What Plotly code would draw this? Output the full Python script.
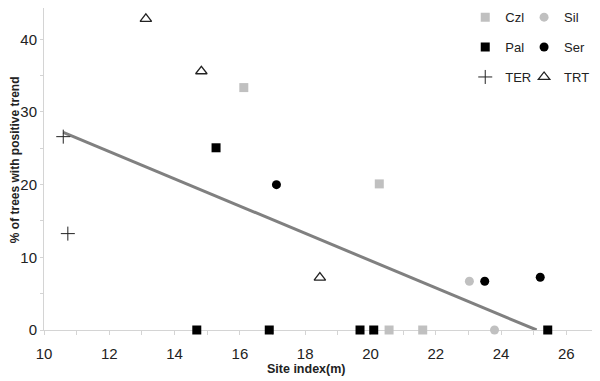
import plotly.graph_objects as go

# Data
czl_x = [16.12, 20.27, 20.57, 21.6]
czl_y = [33.35, 20.1, 0, 0]
sil_x = [23.03, 23.8]
sil_y = [6.7, 0]
pal_x = [15.27, 14.68, 16.9, 19.68, 20.1, 25.43]
pal_y = [25.07, 0, 0, 0, 0, 0]
ser_x = [17.12, 23.5, 25.2]
ser_y = [20.0, 6.7, 7.25]
ter_x = [10.59, 10.73]
ter_y = [26.6, 13.26]
trt_x = [13.12, 14.82, 18.45]
trt_y = [42.8, 35.6, 7.2]
trend_x = [10.59, 25.09]
trend_y = [27.2, 0]

FONT = "Liberation Sans, Arial, sans-serif"
LIGHT = "#c0c0c0"
DARK = "#222"
AX = "#d4d4d4"

fig = go.Figure()

fig.add_trace(go.Scatter(x=trend_x, y=trend_y, mode="lines",
                         line=dict(color="#808080", width=3),
                         showlegend=False, hoverinfo="skip", cliponaxis=False))

def add(name, xs, ys, marker, legend, group):
    fig.add_trace(go.Scatter(x=xs, y=ys, mode="markers", name=name,
                             marker=marker, legend=legend, legendgroup=group,
                             cliponaxis=False))

add("Czl", czl_x, czl_y, dict(symbol="square", size=9, color=LIGHT), "legend", "g1")
add("Pal", pal_x, pal_y, dict(symbol="square", size=9, color="black"), "legend", "g2")
add("TER", ter_x, ter_y, dict(symbol="cross-thin-open", size=10, color=DARK,
                              line=dict(color=DARK, width=1)), "legend", "g3")
add("Sil", sil_x, sil_y, dict(symbol="circle", size=9, color=LIGHT), "legend2", "g4")
add("Ser", ser_x, ser_y, dict(symbol="circle", size=9, color="black"), "legend2", "g5")
add("TRT", trt_x, trt_y, dict(symbol="triangle-up-open", size=10, color=DARK,
                              line=dict(color=DARK, width=1.3)), "legend2", "g6")

axis_common = dict(showline=True, linecolor=AX, linewidth=1,
                   ticks="outside", tickcolor=AX,
                   showgrid=False, zeroline=False, layer="below traces",
                   automargin=False,
                   tickfont=dict(family=FONT, size=15, color=DARK))

legend_common = dict(xanchor="left", yanchor="top", traceorder="grouped",
                     tracegroupgap=10,
                     font=dict(family=FONT, size=13, color=DARK),
                     bgcolor="rgba(0,0,0,0)")

fig.update_layout(
    width=592, height=373,
    margin=dict(l=35.5, r=1, t=0, b=50.5, autoexpand=False),
    plot_bgcolor="white", paper_bgcolor="white",
    font=dict(family=FONT, color=DARK),
    xaxis=dict(range=[10, 27], dtick=2, tick0=10, ticklen=4,
               minor=dict(dtick=1, ticks="outside", ticklen=4, tickcolor=AX),
               ticklabelstandoff=6, **axis_common),
    yaxis=dict(range=[0, 44.3], dtick=10, tick0=0, ticklen=3,
               minor=dict(dtick=5, ticks="outside", ticklen=3, tickcolor=AX),
               ticklabelstandoff=0, **axis_common),
    legend=dict(x=0.759, y=1.018, **legend_common),
    legend2=dict(x=0.865, y=1.018, **legend_common),
    annotations=[
        dict(text="<b>% of trees with positive trend</b>", xref="paper", yref="paper",
             x=-0.0531, y=0.529, xanchor="center", yanchor="middle", textangle=-90,
             showarrow=False, font=dict(family=FONT, size=12, color=DARK)),
        dict(text="<b>Site index(m)</b>", xref="paper", yref="paper",
             x=0.4725, y=-0.1225, xanchor="center", yanchor="middle",
             showarrow=False, font=dict(family=FONT, size=12.5, color=DARK)),
    ],
)

fig.write_html("out.html")
